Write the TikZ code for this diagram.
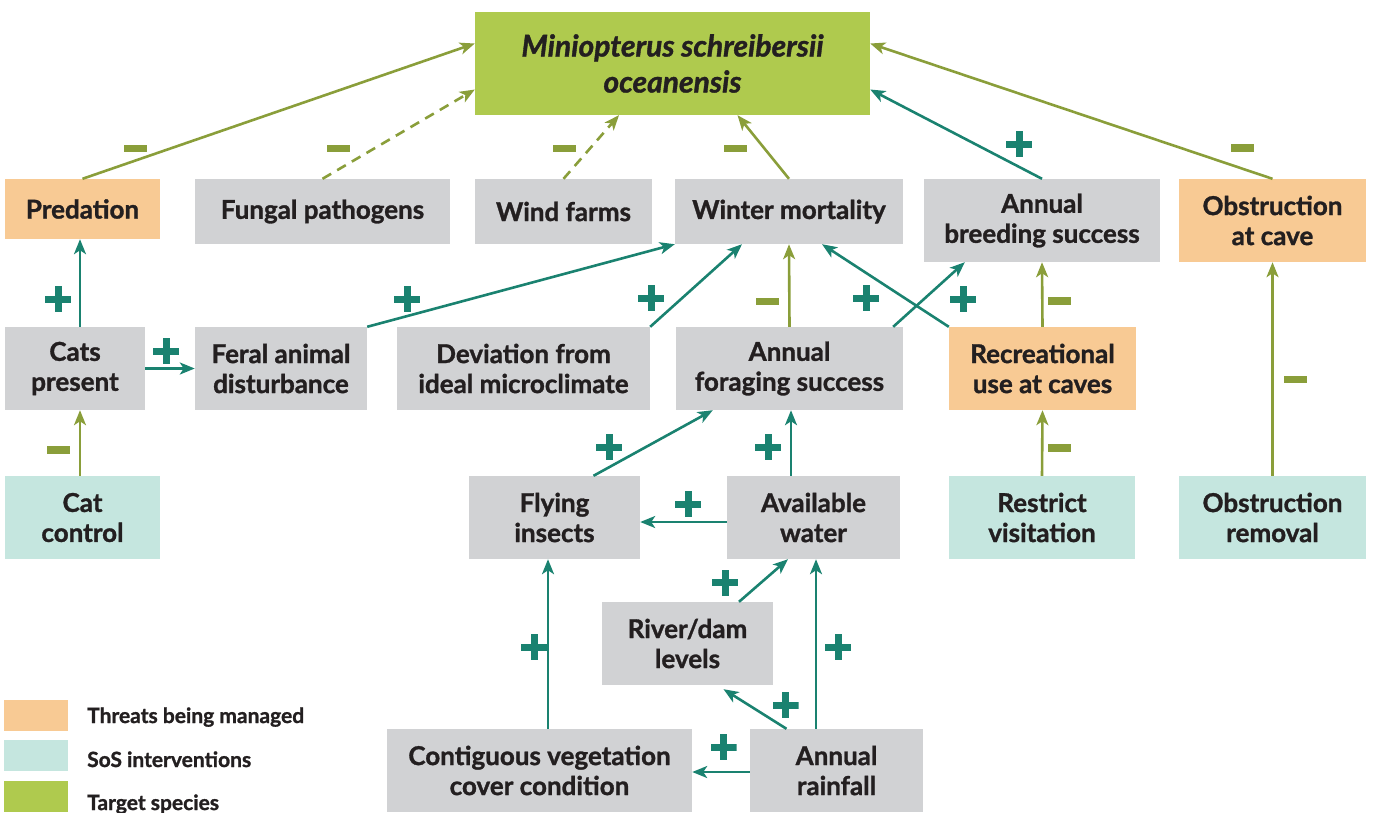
\documentclass[tikz,border=0pt]{standalone}
\usepackage{fontspec}
\setmainfont{Lato}[BoldFeatures={FakeBold=1.2}, BoldItalicFeatures={FakeBold=1.2}]
\usetikzlibrary{arrows.meta}
\definecolor{boxgray}{HTML}{D1D2D4}
\definecolor{threat}{HTML}{F8CA94}
\definecolor{interv}{HTML}{C5E6DF}
\definecolor{species}{HTML}{AFCA4E}
\definecolor{posgreen}{HTML}{1A8270}
\definecolor{negolive}{HTML}{8A9E3A}
\definecolor{ink}{HTML}{231F20}
\begin{document}
\begin{tikzpicture}[x=1pt, y=-1pt, >={Stealth[length=15pt,width=12pt,inset=4pt]},
  box/.style={fill=boxgray, inner sep=0pt, align=center, text=ink, font=\fontsize{26}{30}\selectfont\bfseries},
  threatbox/.style={box, fill=threat},
  intervbox/.style={box, fill=interv},
  speciesbox/.style={box, fill=species, font=\fontsize{30}{36}\selectfont\bfseries\itshape},
  posline/.style={->, draw=posgreen, line width=2.6pt},
  negline/.style={->, draw=negolive, line width=2.6pt},
  negdash/.style={negline, dash pattern=on 10pt off 7pt},
  negsign/.style={fill=negolive, minimum width=23pt, minimum height=7.5pt, inner sep=0pt},
  possign/.style={minimum size=26pt, inner sep=0pt, path picture={
    \fill[posgreen] ([xshift=-13pt,yshift=-3.5pt]path picture bounding box.center) rectangle ++(26pt,7pt);
    \fill[posgreen] ([xshift=-3.5pt,yshift=-13pt]path picture bounding box.center) rectangle ++(7pt,26pt);}},
  legendbox/.style={inner sep=0pt, minimum width=64pt, minimum height=31pt, anchor=north west},
  legendtext/.style={anchor=base west, inner sep=0pt, text=ink, font=\fontsize{21}{24}\selectfont\bfseries}]
\useasboundingbox (0,0) rectangle (1373,812);

\node[speciesbox, minimum width=395pt, minimum height=103pt] (target) at (672.5,63.5) {Miniopterus schreibersii\\oceanensis};

\node[threatbox, minimum width=155pt, minimum height=60pt] (pred) at (82.5,209) {Predation};
\node[box, minimum width=255pt, minimum height=65pt] (fungal) at (322.5,211.5) {Fungal pathogens};
\node[box, minimum width=177pt, minimum height=65pt] (wind) at (563.5,211.5) {Wind farms};
\node[box, minimum width=228pt, minimum height=65pt] (winter) at (789,211.5) {Winter mortality};
\node[box, minimum width=236pt, minimum height=83pt] (breed) at (1042,220.5) {Annual\\breeding success};
\node[threatbox, minimum width=187pt, minimum height=83pt] (obst) at (1272.5,220.5) {Obstruction\\at cave};

\node[box, minimum width=140pt, minimum height=83pt] (cats) at (75,368.5) {Cats\\present};
\node[box, minimum width=172pt, minimum height=83pt] (feral) at (281,368.5) {Feral animal\\disturbance};
\node[box, minimum width=253pt, minimum height=83pt] (dev) at (523.5,368.5) {Deviation from\\ideal microclimate};
\node[box, minimum width=227pt, minimum height=83pt] (forage) at (789.5,368.5) {Annual\\foraging success};
\node[threatbox, minimum width=187pt, minimum height=83pt] (recre) at (1042.5,368.5) {Recreational\\use at caves};

\node[intervbox, minimum width=155pt, minimum height=83pt] (catctl) at (82.5,517.5) {Cat\\control};
\node[box, minimum width=171pt, minimum height=83pt] (insects) at (554.5,517.5) {Flying\\insects};
\node[box, minimum width=173pt, minimum height=83pt] (water) at (813.5,517.5) {Available\\water};
\node[intervbox, minimum width=186pt, minimum height=83pt] (restrict) at (1042,517.5) {Restrict\\visitation};
\node[intervbox, minimum width=187pt, minimum height=83pt] (obrem) at (1272.5,517.5) {Obstruction\\removal};

\node[box, minimum width=171pt, minimum height=83pt] (river) at (687.5,643.5) {River/dam\\levels};
\node[box, minimum width=305pt, minimum height=83pt] (veg) at (539.5,770.5) {Contiguous vegetation\\cover condition};
\node[box, minimum width=173pt, minimum height=83pt] (rain) at (836.5,770.5) {Annual\\rainfall};

\draw[negline] (pred.north) -- ([yshift=20pt]target.west);
\draw[negdash] (fungal.north) -- ([yshift=-26pt]target.west);
\draw[negdash] (wind.north) -- ([xshift=-53.5pt]target.south);
\draw[negline] (winter.north) -- ([xshift=65pt]target.south);
\draw[posline] (breed.north) -- ([yshift=-26pt]target.east);
\draw[negline] (obst.north) -- ([yshift=20pt]target.east);

\draw[posline] ([xshift=5pt]cats.north) -- ([xshift=-2.5pt]pred.south);
\draw[posline] (cats.east) -- (feral.west);
\draw[posline] (feral.north east) -- (winter.south west);
\draw[posline] (dev.north east) -- ([xshift=-47pt]winter.south);
\draw[negline] (forage.north) -- (winter.south);
\draw[posline] ([xshift=-10pt]forage.north east) -- ([xshift=41pt]breed.south west);
\draw[posline] (recre.north west) -- ([xshift=33pt]winter.south);
\draw[negline] (recre.north) -- (breed.south);
\draw[negline] (obrem.north) -- (obst.south);
\draw[negline] ([xshift=-2.5pt]catctl.north) -- ([xshift=5pt]cats.south);
\draw[negline] (restrict.north) -- (recre.south);

\draw[posline] ([xshift=39pt]insects.north) -- ([xshift=37pt]forage.south west);
\draw[posline] ([xshift=-22.5pt]water.north) -- ([xshift=1.5pt]forage.south);
\draw[posline] ([yshift=-4.5pt]water.west) -- ([yshift=-4.5pt]insects.east);
\draw[posline] ([xshift=51.5pt]river.north) -- ([xshift=-25.5pt]water.south);
\draw[posline] ([xshift=-50pt]rain.north) -- ([xshift=36pt,yshift=-4pt]river.south);
\draw[posline] ([xshift=-20.5pt]rain.north) -- ([xshift=2.5pt]water.south);
\draw[posline] ([yshift=-1.5pt]rain.west) -- ([yshift=-1.5pt]veg.east);
\draw[posline] ([xshift=8.5pt]veg.north) -- ([xshift=-6.5pt]insects.south);

\node[negsign] (m-pred) at (135.5,148.5) {};
\node[negsign] (m-fungal) at (338.5,148.5) {};
\node[negsign] (m-wind) at (564.5,148.5) {};
\node[negsign] (m-winter) at (735.5,148.5) {};
\node[possign] (p-breed) at (1019,144) {};
\node[negsign] (m-obst) at (1242.5,148) {};
\node[possign] (p-cats) at (58,299) {};
\node[possign] (p-feral) at (166,351) {};
\node[possign] (p-ferwin) at (407,299) {};
\node[possign] (p-devwin) at (651,298) {};
\node[negsign] (m-forwin) at (767.5,301.5) {};
\node[possign] (p-forbreed) at (866,298) {};
\node[possign] (p-recwin) at (963,299) {};
\node[negsign] (m-recbreed) at (1059.5,301) {};
\node[negsign] (m-obrem) at (1295.5,379.5) {};
\node[negsign] (m-catctl) at (58,450) {};
\node[negsign] (m-restrict) at (1059,448) {};
\node[possign] (p-insects) at (609,447) {};
\node[possign] (p-water) at (768,447) {};
\node[possign] (p-watins) at (688,504) {};
\node[possign] (p-river) at (725,582.5) {};
\node[possign] (p-rainriver) at (785.5,705) {};
\node[possign] (p-rainwater) at (838,647) {};
\node[possign] (p-rainveg) at (723.5,747) {};
\node[possign] (p-veg) at (534,647) {};

\node[legendbox, fill=threat] (key-threat) at (4,700) {};
\node[legendbox, fill=interv] (key-interv) at (4,740) {};
\node[legendbox, fill=species] (key-species) at (4,781) {};
\node[legendtext] (lbl-threat) at (87,723) {Threats being managed};
\node[legendtext] (lbl-interv) at (87,767) {SoS interventions};
\node[legendtext] (lbl-species) at (87,810) {Target species};
\end{tikzpicture}
\end{document}
